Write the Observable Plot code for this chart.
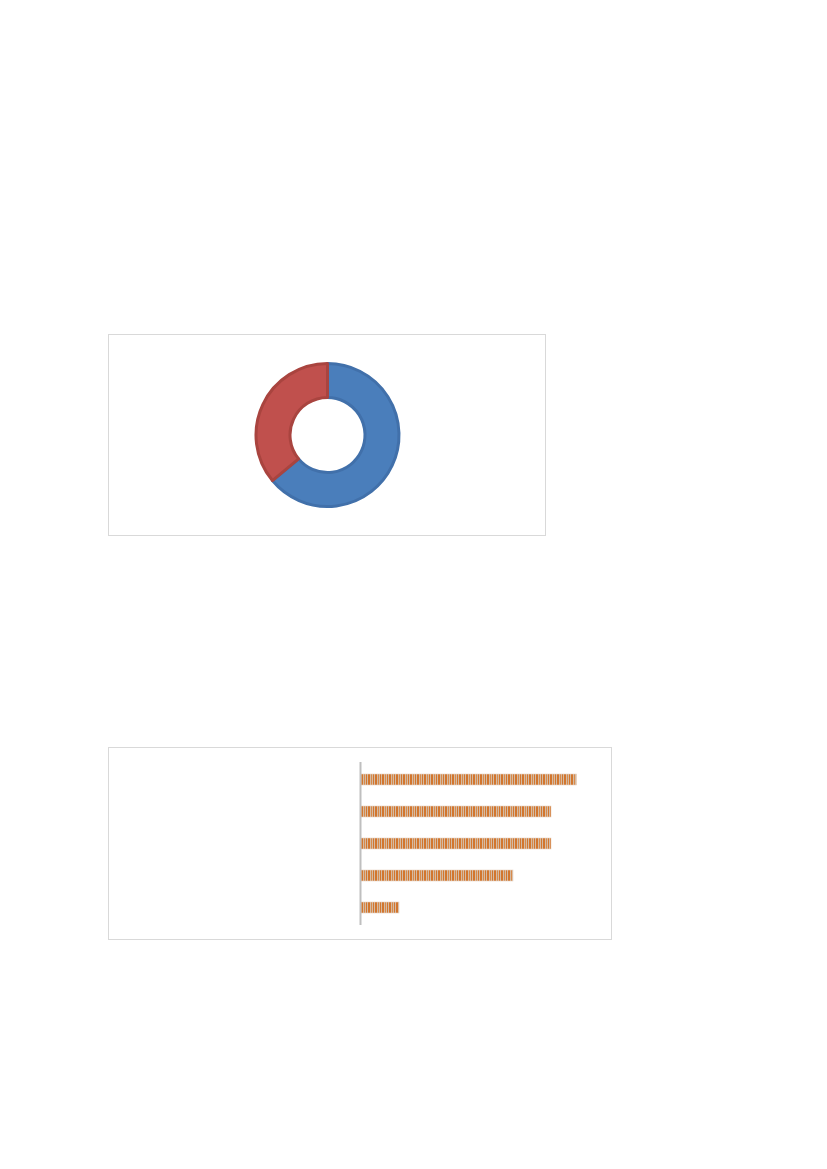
<!DOCTYPE html>
<html><head><meta charset="utf-8">
<script src="https://cdn.jsdelivr.net/npm/d3@7"></script>
<script src="https://cdn.jsdelivr.net/npm/@observablehq/plot@0.6"></script>
<style>
body{margin:0;background:#fff;width:827px;height:1169px;position:relative;font-family:"Liberation Sans",Arial,sans-serif}
.box{position:absolute;border:1px solid #d9d9d9;box-sizing:border-box;background:#fff}
#c1{left:108px;top:334px;width:438px;height:202px}
#c2{left:108px;top:747px;width:504px;height:193px}
svg{display:block}
</style></head><body>
<svg width="0" height="0" style="position:absolute"><defs>
<pattern id="stripes" patternUnits="userSpaceOnUse" width="7" height="11">
<rect width="7" height="11" fill="#d4bba4"/>
<rect x="0" width="2" height="11" fill="#d2762e"/>
<rect x="3" width="1" height="11" fill="#d88a4a"/>
<rect x="5" width="1" height="11" fill="#d2762e"/>
</pattern></defs></svg>
<div class="box" id="c1"></div><div class="box" id="c2"></div>
<script>
// Donut data
const donutLabels = ["A", "B"];
const donutValues = [64, 36];
const donutColors = ["#4a7ebb", "#c0504d"];
const donutStrokes = ["#4170aa", "#a9443f"];

// Bar data
const barCategories = ["1", "2", "3", "4", "5"];
const barValues = [17, 15, 15, 12, 3];

const slices = donutLabels.map((k, i) => ({key: k, value: donutValues[i]}));
const bars = barCategories.map((c, i) => ({cat: c, value: barValues[i]}));

const fillScale = Plot.scale({color: {type: "ordinal", domain: donutLabels, range: donutColors}});
const strokeScale = Plot.scale({color: {type: "ordinal", domain: donutLabels, range: donutStrokes}});

function donutMark(index, scales, values, dimensions) {
  const {width, height} = dimensions;
  const g = d3.create("svg:g").attr("transform", `translate(${width / 2 + 0.5},${height / 2})`);
  const pie = d3.pie().value(d => d.value).sort(null);
  const arc = d3.arc().innerRadius(37.5).outerRadius(71.5);
  g.selectAll("path").data(pie(slices)).join("path")
    .attr("d", arc)
    .attr("fill", d => fillScale.apply(d.data.key))
    .attr("stroke", d => strokeScale.apply(d.data.key))
    .attr("stroke-width", 3)
    .attr("stroke-linejoin", "round");
  return g.node();
}

const chart1 = Plot.plot({
  width: 436, height: 200,
  margin: 0,
  marks: [donutMark]
});
document.getElementById("c1").append(chart1);

const chart2 = Plot.plot({
  width: 502, height: 191,
  marginLeft: 252, marginRight: 22, marginTop: 14, marginBottom: 14,
  x: {domain: [0, 18], axis: null},
  y: {domain: barCategories, paddingInner: 0.66, paddingOuter: 0.33, axis: null},
  marks: [
    Plot.barX(bars, {x: "value", y: "cat", fill: "url(#stripes)", stroke: "#e6d3c2", strokeWidth: 0.6}),
    Plot.ruleX([0], {stroke: "#bfbfbf", strokeWidth: 2, dx: -1})
  ]
});
document.getElementById("c2").append(chart2);
</script>
</body></html>
